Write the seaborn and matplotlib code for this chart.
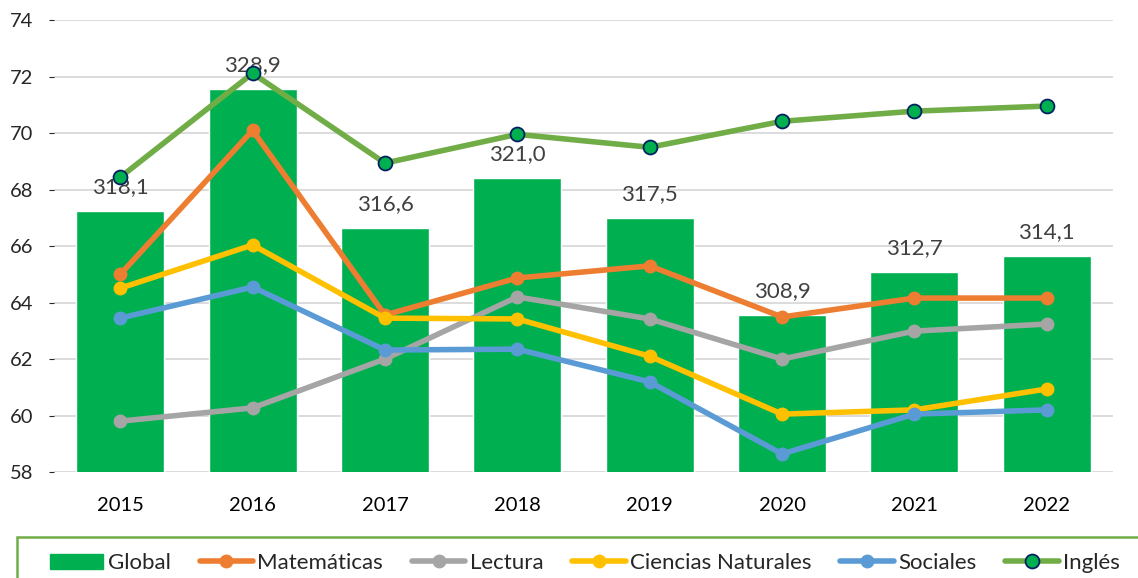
import numpy as np
import pandas as pd
import seaborn as sns
from matplotlib import pyplot as plt
from matplotlib.patches import Patch, Rectangle
from matplotlib.lines import Line2D

years = ['2015', '2016', '2017', '2018', '2019', '2020', '2021', '2022']
global_score = [318.1, 328.9, 316.6, 321.0, 317.5, 308.9, 312.7, 314.1]
matematicas = [65.0, 70.1, 63.56, 64.87, 65.3, 63.49, 64.16, 64.16]
lectura = [59.8, 60.27, 62.0, 64.2, 63.42, 62.0, 62.99, 63.24]
ciencias = [64.51, 66.04, 63.45, 63.42, 62.1, 60.05, 60.2, 60.94]
sociales = [63.45, 64.55, 62.32, 62.35, 61.19, 58.64, 60.05, 60.2]
ingles = [68.44, 72.12, 68.94, 69.96, 69.5, 70.42, 70.78, 70.96]

sns.set_style('white')
plt.rcParams['font.family'] = ['Lato', 'DejaVu Sans']

fig = plt.figure(figsize=(11.38, 5.78), dpi=100)
ax = fig.add_axes([0.0475, 0.1834, 0.978 - 0.0475, 0.965 - 0.1834])

# bars on a hidden secondary scale (295-335 lines up with 58-74)
df = pd.DataFrame({'year': years, 'global': global_score})
sns.barplot(data=df, x='year', y='global', color='#00B050', saturation=1,
            width=0.665, ax=ax, zorder=2)
ax.set_ylim(295, 335)
ax.set_yticks(np.arange(295, 336, 5))
ax.yaxis.grid(True, color='#D9D9D9', linewidth=1.3, zorder=0)
ax.set_axisbelow(True)
ax.tick_params(axis='y', left=False, labelleft=False)
ax.tick_params(axis='x', length=0, labelsize=14.5, pad=18, colors='#000000')
ax.set_xlabel('')
ax.set_ylabel('')
ax.bar_label(ax.containers[0], labels=[f'{v:.1f}'.replace('.', ',') for v in global_score],
             padding=10, fontsize=16, color='#404040')
for s in ax.spines.values():
    s.set_visible(False)

ax2 = ax.twinx()
x = np.arange(len(years))
series = [
    ('Matemáticas', matematicas, '#ED7D31', '#ED7D31', '#ED7D31'),
    ('Lectura', lectura, '#A5A5A5', '#A5A5A5', '#A5A5A5'),
    ('Ciencias Naturales', ciencias, '#FFC000', '#FFC000', '#FFC000'),
    ('Sociales', sociales, '#5B9BD5', '#5B9BD5', '#5B9BD5'),
    ('Inglés', ingles, '#70AD47', '#00B050', '#002060'),
]
for name, vals, lc, fc, ec in series:
    sns.lineplot(x=x, y=vals, ax=ax2, color=lc, linewidth=4, marker='o',
                 markersize=10, markerfacecolor=fc, markeredgecolor=ec,
                 markeredgewidth=1.3 if name == 'Inglés' else 0)
ax2.set_ylim(58, 74)
ax2.set_yticks(np.arange(58, 75, 2))
ax2.yaxis.tick_left()
ax2.tick_params(axis='y', length=0, labelsize=14.5, pad=15)
ax2.set_xlim(-0.5, len(years) - 0.5)
for s in ax2.spines.values():
    s.set_visible(False)

# legend frame runs off the right and bottom edges
fig.patches.append(Rectangle((17 / 1138, -0.05), 1.1, 0.05 + (578 - 537) / 578,
                             transform=fig.transFigure, fill=False,
                             edgecolor='#70AD47', linewidth=1.8))

handles = [Patch(color='#00B050', label='Global')]
for name, vals, lc, fc, ec in series:
    handles.append(Line2D([], [], color=lc, linewidth=4, marker='o', markersize=10,
                          markerfacecolor=fc, markeredgecolor=ec,
                          markeredgewidth=1.3 if name == 'Inglés' else 0, label=name))
fig.legend(handles=handles, loc='center left', bbox_to_anchor=(50 / 1138, 1 - 563 / 578),
           ncol=6, frameon=False, fontsize=16, handlelength=2.4, handleheight=0.65,
           handletextpad=0.2, columnspacing=1.3, borderpad=0, borderaxespad=0)

fig.savefig('out.png', dpi=100)
